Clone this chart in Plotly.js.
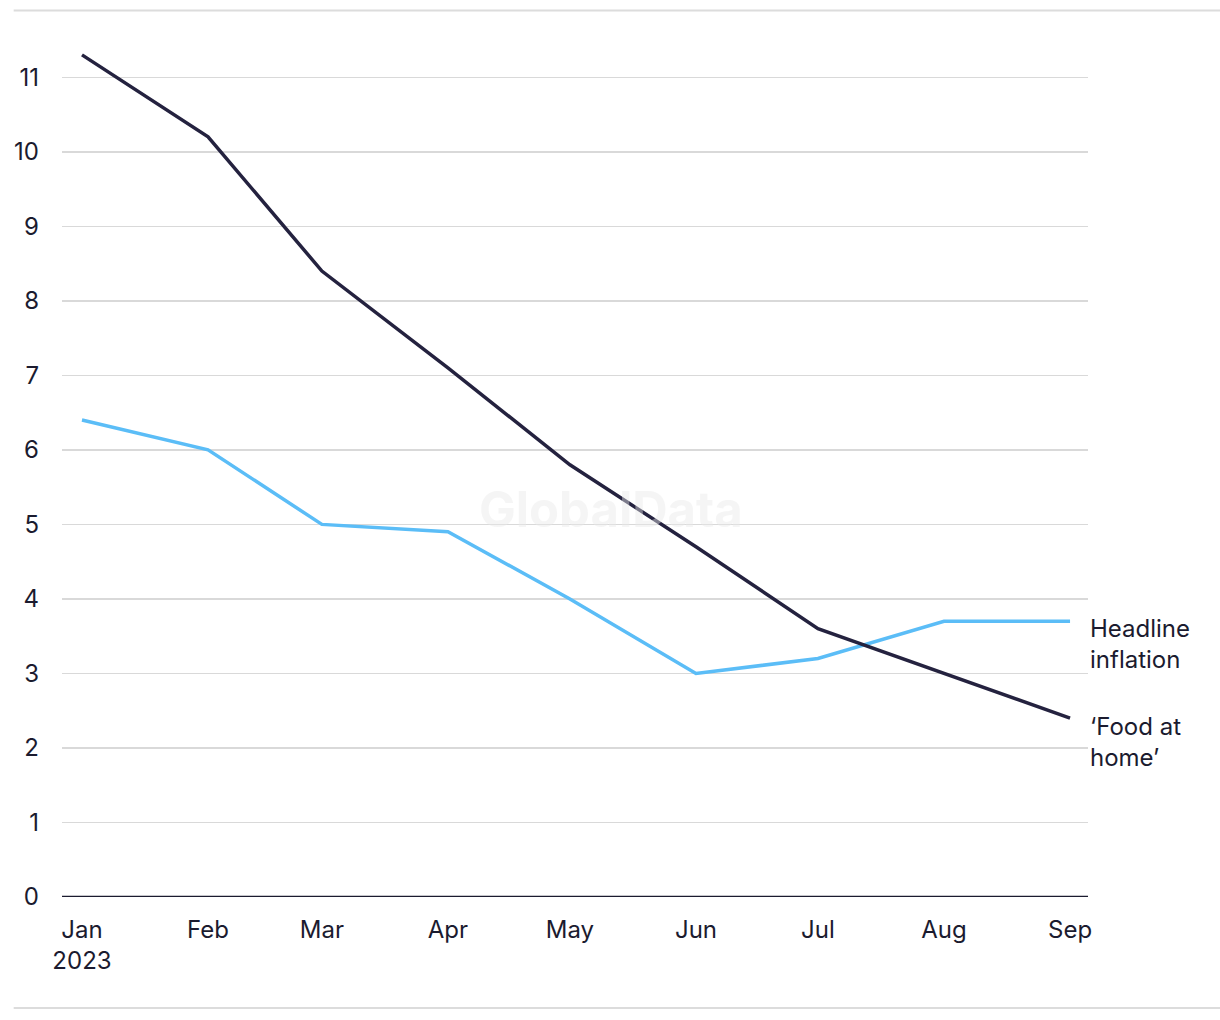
<!DOCTYPE html>
<html>
<head>
<meta charset="utf-8">
<script src="https://cdn.plot.ly/plotly-3.0.1.min.js"></script>
<style>html,body{margin:0;padding:0;background:#fff;}#chart{width:1220px;height:1020px;}</style>
</head>
<body>
<div id="chart"></div>
<script>
const dates = ["2023-01-01", "2023-02-01", "2023-03-01", "2023-04-01", "2023-05-01", "2023-06-01", "2023-07-01", "2023-08-01", "2023-09-01"];
const months = ["Jan<br>2023", "Feb", "Mar", "Apr", "May", "Jun", "Jul", "Aug", "Sep"];
const foodAtHome = [11.3, 10.2, 8.4, 7.1, 5.8, 4.7, 3.6, 3.0, 2.4];
const headline = [6.4, 6.0, 5.0, 4.9, 4.0, 3.0, 3.2, 3.7, 3.7];
const yTicks = [0, 1, 2, 3, 4, 5, 6, 7, 8, 9, 10, 11];
const seriesLabels = ["Headline<br>inflation", "‘Food at<br>home’"];

const textColor = "#1b1b2f";
const fontFam = "Inter, 'Liberation Sans', sans-serif";

const traces = [
  {x: dates, y: headline, type: "scatter", mode: "lines", line: {color: "#5bbdf7", width: 3.5}, hoverinfo: "skip"},
  {x: dates, y: foodAtHome, type: "scatter", mode: "lines", line: {color: "#24223f", width: 3.5}, hoverinfo: "skip"}
];

const layout = {
  width: 1220, height: 1020,
  margin: {l: 62, r: 132, t: 40, b: 123},
  paper_bgcolor: "#fff", plot_bgcolor: "#fff",
  showlegend: false,
  font: {family: fontFam, size: 24, color: textColor},
  xaxis: {
    type: "date",
    range: ["2022-12-27 02:00", "2023-09-05 10:00"], tickvals: dates, ticktext: months,
    showgrid: false, zeroline: false, showline: false, ticks: "",
    ticklabelstandoff: 16,
    tickfont: {size: 24, color: textColor}, fixedrange: true
  },
  yaxis: {
    range: [0, 11.5], tickvals: yTicks, ticktext: yTicks.map(String),
    showgrid: true, gridcolor: "#d9d9d9", gridwidth: 1.5,
    zeroline: false, showline: false, ticks: "",
    ticklabelstandoff: 22,
    tickfont: {size: 24, color: textColor}, fixedrange: true
  },
  shapes: [
    {type: "line", xref: "paper", yref: "y", x0: 0, x1: 1, y0: 0, y1: 0, line: {color: "#1b1b2f", width: 2.5}},
    {type: "line", xref: "paper", yref: "paper", x0: -0.0471, x1: 1.1488, y0: 1.0343, y1: 1.0343, line: {color: "#dcdcdc", width: 2}},
    {type: "line", xref: "paper", yref: "paper", x0: -0.0471, x1: 1.1488, y0: -0.1295, y1: -0.1295, line: {color: "#dcdcdc", width: 2}}
  ],
  annotations: [
    {xref: "paper", yref: "y", x: 1.0, y: 3.4, xanchor: "left", yanchor: "middle", align: "left",
     text: seriesLabels[0], showarrow: false, font: {size: 24, color: textColor}},
    {xref: "paper", yref: "y", x: 1.0, y: 2.08, xanchor: "left", yanchor: "middle", align: "left",
     text: seriesLabels[1], showarrow: false, font: {size: 24, color: textColor}},
    {xref: "paper", yref: "y", x: 0.535, y: 5.2, xanchor: "center", yanchor: "middle",
     text: "<b>GlobalData</b>", showarrow: false, font: {size: 49, color: "rgba(232,232,232,0.45)", family: "Inter, sans-serif"}}
  ]
};

Plotly.newPlot("chart", traces, layout, {displayModeBar: false, staticPlot: true});
</script>
</body>
</html>
